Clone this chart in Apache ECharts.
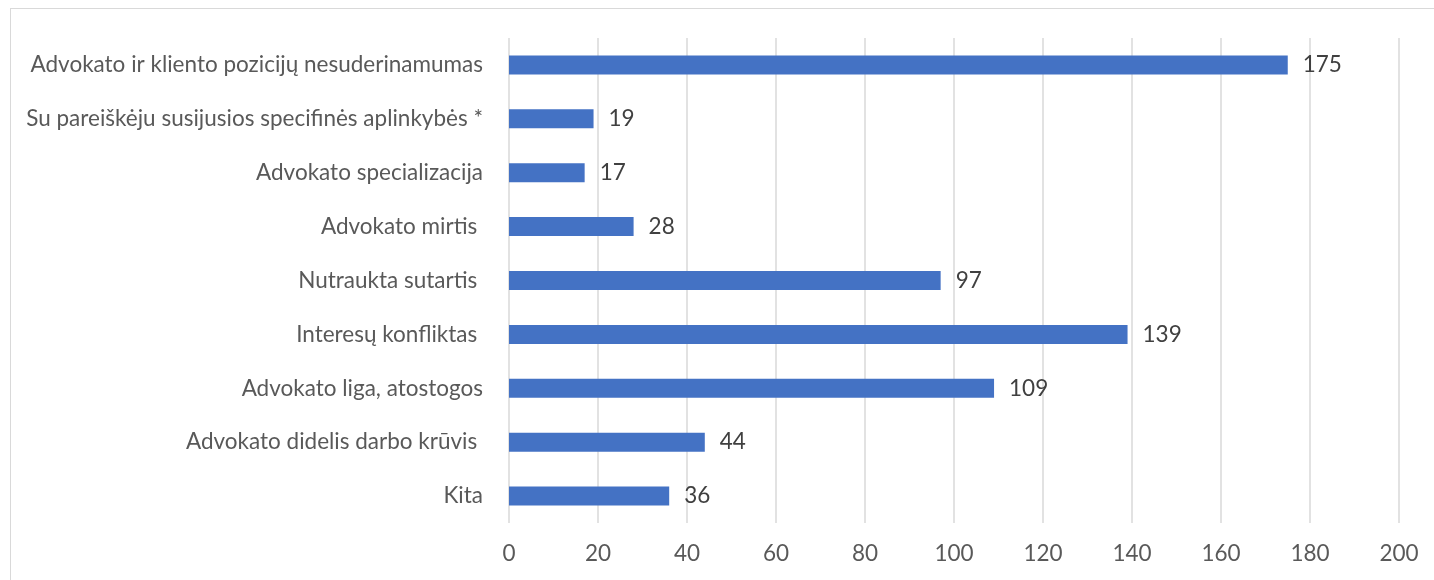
<!DOCTYPE html>
<html><head><meta charset="utf-8">
<script src="https://cdn.jsdelivr.net/npm/echarts@6/dist/echarts.min.js"></script>
<style>
html,body{margin:0;padding:0;background:#fff;}
#frame{position:absolute;left:10px;top:8px;width:1440px;height:600px;border:1.5px solid #d9d9d9;box-sizing:border-box;}
#c{position:absolute;left:0;top:0;width:1434px;height:580px;}
</style></head>
<body>
<div id="frame"></div>
<div id="c"></div>
<script>
const categories = [
  "Advokato ir kliento pozicijų nesuderinamumas",
  "Su pareiškėju susijusios specifinės aplinkybės *",
  "Advokato specializacija",
  "Advokato mirtis ",
  "Nutraukta sutartis ",
  "Interesų konfliktas ",
  "Advokato liga, atostogos",
  "Advokato didelis darbo krūvis ",
  "Kita"
];
const values = [175, 19, 17, 28, 97, 139, 109, 44, 36];
const xTicks = { min: 0, max: 200, interval: 20 };

const font = "Lato";
const chart = echarts.init(document.getElementById('c'));
chart.setOption({
  animation: false,
  grid: { left: 509, right: 35, top: 38, bottom: 57, containLabel: false },
  xAxis: {
    type: 'value', min: xTicks.min, max: xTicks.max, interval: xTicks.interval,
    axisLine: { show: false }, axisTick: { show: false },
    splitLine: { show: true, lineStyle: { color: '#d9d9d9', width: 1.5 } },
    axisLabel: { color: '#595959', fontFamily: font, fontSize: 22.5, margin: 19 }
  },
  yAxis: {
    type: 'category', data: categories.slice().reverse(),
    axisLine: { show: false }, axisTick: { show: false },
    axisLabel: { color: '#595959', fontFamily: font, fontSize: 22.5, margin: 26 }
  },
  series: [{
    type: 'bar', data: values.slice().reverse(), barWidth: 19,
    itemStyle: { color: '#4472C4' },
    label: { show: true, position: 'right', distance: 15, color: '#404040', fontFamily: font, fontSize: 22.5 }
  }]
});
</script>
</body></html>
